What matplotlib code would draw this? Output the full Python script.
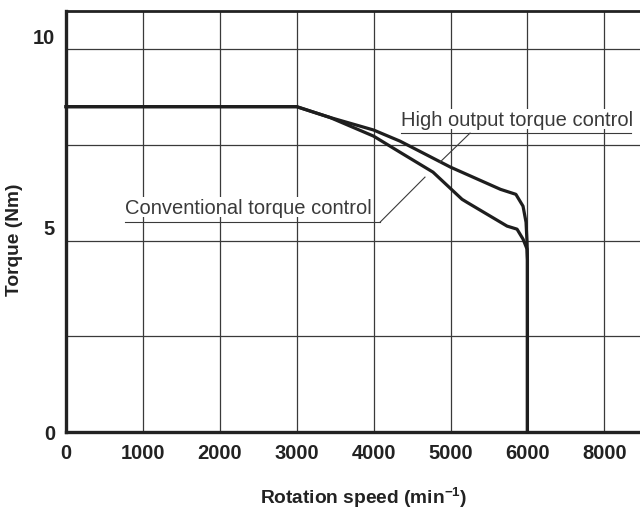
import matplotlib
matplotlib.use("Agg")
import matplotlib.pyplot as plt
import matplotlib.transforms as mtransforms

plt.rcParams['font.family'] = ['Liberation Sans', 'DejaVu Sans']
plt.rcParams['mathtext.fontset'] = 'custom'
plt.rcParams['mathtext.rm'] = 'Liberation Sans:bold'
plt.rcParams['mathtext.bf'] = 'Liberation Sans:bold'

# ---- data ----
speed_high = [0, 3000, 3430, 4000, 4343, 5000, 5650, 5850, 5943, 5982, 5995, 6000, 6000]
torque_high = [8.5, 8.5, 8.22, 7.89, 7.60, 6.92, 6.34, 6.21, 5.90, 5.48, 4.96, 4.5, 0]
speed_conv = [0, 3000, 3430, 4000, 4343, 4772, 5150, 5215, 5735, 5865, 5943, 5995, 6000, 6000]
torque_conv = [8.5, 8.5, 8.22, 7.73, 7.31, 6.79, 6.08, 6.00, 5.38, 5.30, 5.04, 4.78, 4.5, 0]

x_tick_vals = [0, 1000, 2000, 3000, 4000, 5000, 6000, 7000]
x_tick_labels = ['0', '1000', '2000', '3000', '4000', '5000', '6000', '8000']
y_grid_vals = [0, 2.5, 5, 7.5, 10]
y_tick_labels = ['0', '', '5', '', '10']

label_high = 'High output torque control'
label_conv = 'Conventional torque control'

fig = plt.figure(figsize=(6.4, 5.1), dpi=100)
ax = fig.add_axes([66/640, 77/510, 596/640, 421/510])
ax.set_xlim(0, 7750)
ax.set_ylim(0, 11.0)

ax.set_xticks(x_tick_vals)
ax.set_xticklabels(x_tick_labels)
ax.set_yticks(y_grid_vals)
ax.set_yticklabels(y_tick_labels)
ax.tick_params(length=0, labelsize=14.5, colors='#222222')
ax.tick_params(axis='x', pad=8)
ax.tick_params(axis='y', pad=8)
for lab in ax.get_xticklabels() + ax.get_yticklabels():
    lab.set_fontweight('bold')
# shift 5 and 10 labels upward like the reference
for lab in ax.get_yticklabels():
    if lab.get_text() in ('5', '10'):
        lab.set_transform(lab.get_transform() + mtransforms.ScaledTranslation(0, 14/100, fig.dpi_scale_trans))

ax.grid(True, color='#3a3a3a', linewidth=0.9)
ax.set_axisbelow(True)

for side in ('left', 'bottom'):
    ax.spines[side].set_linewidth(2.4)
    ax.spines[side].set_color('#222222')
ax.spines['top'].set_linewidth(2.0)
ax.spines['top'].set_color('#222222')
ax.spines['right'].set_visible(False)

ax.plot(speed_high, torque_high, color='#1e1e1e', lw=2.3, solid_joinstyle='round', clip_on=False, zorder=3)
ax.plot(speed_conv, torque_conv, color='#1e1e1e', lw=2.3, solid_joinstyle='round', clip_on=False, zorder=3)

# annotations with underline and leader lines
ann_color = '#3a3a3a'
ax.text(4356, 8.17, label_high, fontsize=14.5, color=ann_color, va='center', ha='left',
        bbox=dict(facecolor='white', edgecolor='none', pad=0.5), zorder=4)
ax.plot([4356, 7347], [7.81, 7.81], color=ann_color, lw=0.8, zorder=4)
ax.plot([5254, 4863], [7.81, 7.05], color=ann_color, lw=0.8, zorder=4)

ax.text(767, 5.87, label_conv, fontsize=14.5, color=ann_color, va='center', ha='left',
        bbox=dict(facecolor='white', edgecolor='none', pad=0.5), zorder=4)
ax.plot([767, 4083], [5.48, 5.48], color=ann_color, lw=0.8, zorder=4)
ax.plot([4083, 4668], [5.48, 6.66], color=ann_color, lw=0.8, zorder=4)

fig.text(15/640, 1 - 240/510, 'Torque (Nm)', rotation=90, fontsize=13.8, fontweight='bold',
         color='#222222', ha='center', va='center')
fig.text(364/640, 1 - 498/510, r'Rotation speed (min$^{\mathrm{-1}}$)', fontsize=13.8,
         fontweight='bold', color='#222222', ha='center', va='center')

fig.savefig('out.png', dpi=100)
